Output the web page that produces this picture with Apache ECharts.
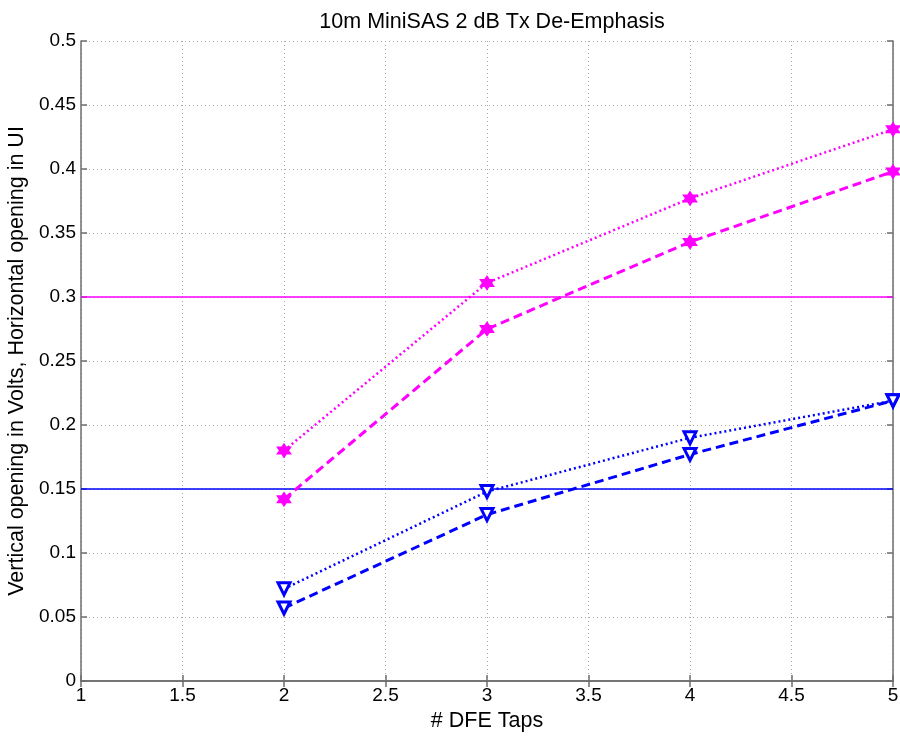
<!DOCTYPE html>
<html><head><meta charset="utf-8">
<script src="https://cdn.jsdelivr.net/npm/echarts@6/dist/echarts.min.js"></script>
<style>html,body{margin:0;padding:0;background:#fff}#c{width:900px;height:736px}</style>
</head><body><div id="c"></div>
<script>
const taps = [2, 3, 4, 5];
const magentaDotted = [0.180, 0.311, 0.377, 0.431];
const magentaDashed = [0.142, 0.275, 0.343, 0.398];
const blueDotted = [0.072, 0.148, 0.190, 0.219];
const blueDashed = [0.057, 0.130, 0.177, 0.219];
const magentaLimit = 0.3;
const blueLimit = 0.15;
const titleText = '10m MiniSAS 2 dB Tx De-Emphasis';
const xName = '# DFE Taps';
const yName = 'Vertical opening in Volts, Horizontal opening in UI';

const star = 'path://M100,0 L128.87,50 L186.6,50 L157.7,100 L186.6,150 L128.87,150 L100,200 L71.13,150 L13.4,150 L42.3,100 L13.4,50 L71.13,50 Z';
const pair = (ys) => taps.map((x, i) => [x, ys[i]]);
const font = 'Liberation Sans, Arial, sans-serif';
const fs = 21.5;
const tfs = 19;
const axisCommon = {
  type: 'value',
  axisLine: {show: true, lineStyle: {color: '#6e6e6e', width: 1.5}},
  axisTick: {show: true, inside: true, length: 6, lineStyle: {color: '#6e6e6e', width: 1.5}},
  splitLine: {show: false},
};
const chart = echarts.init(document.getElementById('c'));
function mk(color, ys, type, width, symbol) {
  const s = {
    type: 'line', data: pair(ys), lineStyle: {color, width, type},
    symbol, symbolSize: 13, showSymbol: true, z: 5, animation: false
  };
  if (symbol === 'triangle') {
    s.symbolRotate = 180;
    s.symbolSize = 12;
    s.itemStyle = {color: '#fff', borderColor: color, borderWidth: 3};
  } else {
    s.itemStyle = {color, borderColor: color, borderWidth: 1.5};
  }
  return s;
}
chart.setOption({
  animation: false,
  title: {text: titleText, left: 487, textAlign: 'center', top: 6, textStyle: {fontFamily: font, fontWeight: 'normal', fontSize: fs, color: '#000'}},
  grid: {left: 81, top: 41, right: 7, bottom: 55, containLabel: false, outerBoundsMode: 'none'},
  xAxis: [
    Object.assign({}, axisCommon, {min: 1, max: 5, interval: 0.5, position: 'bottom',
      name: xName, nameLocation: 'middle', nameGap: 25, nameTextStyle: {fontFamily: font, fontSize: fs, color: '#000'},
      axisLabel: {fontFamily: font, fontSize: tfs, color: '#000', margin: 5},
      splitLine: {show: true, lineStyle: {color: '#a8a8a8', type: [1, 3], width: 1}}}),
    Object.assign({}, axisCommon, {min: 1, max: 5, interval: 0.5, position: 'top', axisLabel: {show: false}})
  ],
  yAxis: [
    Object.assign({}, axisCommon, {min: 0, max: 0.5, interval: 0.05, position: 'left',
      name: yName, nameLocation: 'middle', nameGap: 51, nameTextStyle: {fontFamily: font, fontSize: fs, color: '#000'},
      axisLabel: {fontFamily: font, fontSize: tfs, color: '#000', margin: 5},
      splitLine: {show: true, lineStyle: {color: '#a8a8a8', type: [1, 3], width: 1}}}),
    Object.assign({}, axisCommon, {min: 0, max: 0.5, interval: 0.05, position: 'right', axisLabel: {show: false}})
  ],
  series: [
    mk('#ff00ff', magentaDotted, [2, 3], 2.5, star),
    mk('#ff00ff', magentaDashed, [9, 5], 3, star),
    mk('#0000ff', blueDotted, [2, 3], 2.5, 'triangle'),
    mk('#0000ff', blueDashed, [9, 5], 3, 'triangle'),
    {type: 'line', data: [], symbol: 'none', markLine: {silent: true, symbol: 'none', label: {show: false},
      lineStyle: {color: '#ff00ff', type: 'solid', width: 1.5}, data: [{yAxis: magentaLimit}]}},
    {type: 'line', data: [], symbol: 'none', markLine: {silent: true, symbol: 'none', label: {show: false},
      lineStyle: {color: '#0000ff', type: 'solid', width: 1.5}, data: [{yAxis: blueLimit}]}}
  ]
});
</script></body></html>
